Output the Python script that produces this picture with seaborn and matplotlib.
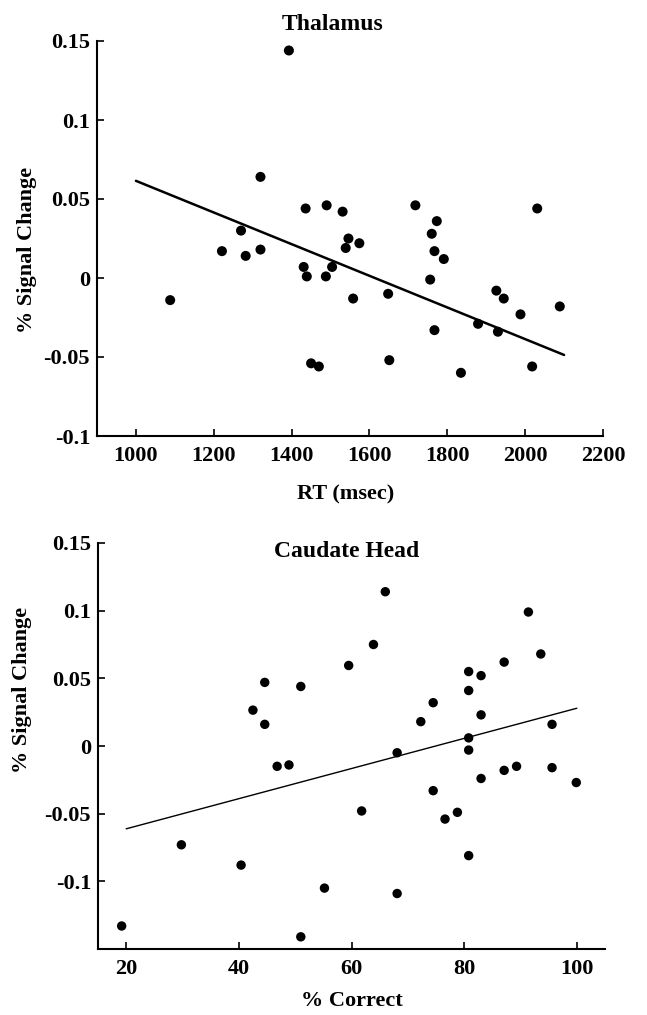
import matplotlib
matplotlib.use("Agg")
import matplotlib.pyplot as plt
import seaborn as sns
import numpy as np
import pandas as pd

# ---- Thalamus panel data ----
thal_rt = [1393, 1320, 1436, 1490, 1531, 1718, 1773, 2031, 1270, 1221,
           1282, 1320, 1431, 1439, 1488, 1504, 1546, 1539, 1574, 1558,
           1648, 1651, 1450, 1470, 1088, 1760, 1767, 1791, 1756, 1767,
           1835, 1879, 1926, 1945, 1930, 1988, 2018, 2089]
thal_sig = [0.144, 0.064, 0.044, 0.046, 0.042, 0.046, 0.036, 0.044, 0.030, 0.017,
            0.014, 0.018, 0.007, 0.001, 0.001, 0.007, 0.025, 0.019, 0.022, -0.013,
            -0.010, -0.052, -0.054, -0.056, -0.014, 0.028, 0.017, 0.012, -0.001, -0.033,
            -0.060, -0.029, -0.008, -0.013, -0.034, -0.023, -0.056, -0.018]
thal_fit_x = [1000, 2100]
thal_fit_y = [0.0615, -0.0487]
thal_xticks = [1000, 1200, 1400, 1600, 1800, 2000, 2200]
thal_yticks = [-0.1, -0.05, 0, 0.05, 0.1, 0.15]
thal_yticklabels = ["-0.1", "-0.05", "0", "0.05", "0.1", "0.15"]

# ---- Caudate Head panel data ----
caud_pc = [66.0, 91.4, 63.9, 59.5, 93.6, 87.1, 80.8, 83.0, 80.8, 44.6,
           51.0, 42.5, 44.6, 74.5, 72.3, 83.0, 95.6, 80.8, 80.8, 68.1,
           46.8, 48.9, 83.0, 87.1, 89.3, 95.6, 99.9, 74.5, 61.8, 78.8,
           76.6, 29.8, 40.4, 80.8, 55.2, 68.1, 19.2, 51.0]
caud_sig = [0.114, 0.099, 0.075, 0.0595, 0.068, 0.062, 0.055, 0.052, 0.041, 0.047,
            0.044, 0.0265, 0.016, 0.032, 0.018, 0.023, 0.016, 0.006, -0.003, -0.005,
            -0.015, -0.014, -0.024, -0.018, -0.015, -0.016, -0.027, -0.033, -0.048, -0.049,
            -0.054, -0.073, -0.088, -0.081, -0.105, -0.109, -0.133, -0.141]
caud_fit_x = [20, 100]
caud_fit_y = [-0.0612, 0.0279]
caud_xticks = [20, 40, 60, 80, 100]
caud_yticks = [-0.1, -0.05, 0, 0.05, 0.1, 0.15]
caud_yticklabels = ["-0.1", "-0.05", "0", "0.05", "0.1", "0.15"]

sns.set_style("ticks")
plt.rcParams['font.family'] = ['Liberation Serif', 'DejaVu Serif']
plt.rcParams['font.weight'] = 'bold'
plt.rcParams['text.color'] = 'black'
plt.rcParams['axes.labelcolor'] = 'black'
plt.rcParams['xtick.color'] = 'black'
plt.rcParams['ytick.color'] = 'black'
FS = 16

fig = plt.figure(figsize=(6.47, 10.15), dpi=100)
ax1 = fig.add_axes([97/647, 1-436/1015, (603-97)/647, (436-41)/1015])
ax2 = fig.add_axes([98/647, 1-949/1015, (605-98)/647, (949-543)/1015])

def style(ax):
    sns.despine(ax=ax)
    for s in ("left", "bottom"):
        ax.spines[s].set_linewidth(1.5)
        ax.spines[s].set_color("black")
    ax.tick_params(direction="in", length=5, width=1.2, colors="black",
                   labelsize=FS)
    ax.tick_params(axis="x", pad=7)
    ax.tick_params(axis="y", pad=5)
    for lab in ax.get_xticklabels() + ax.get_yticklabels():
        lab.set_fontweight("bold")

df1 = pd.DataFrame({"rt": thal_rt, "sig": thal_sig})
sns.scatterplot(data=df1, x="rt", y="sig", ax=ax1, color="black", s=52,
                edgecolor="none", linewidth=0)
sns.lineplot(x=thal_fit_x, y=thal_fit_y, ax=ax1, color="black", linewidth=1.8)
ax1.set_xlim(900, 2200)
ax1.set_ylim(-0.1, 0.15)
ax1.set_xticks(thal_xticks)
ax1.set_yticks(thal_yticks)
ax1.set_yticklabels(thal_yticklabels)
style(ax1)
ax1.set_xlabel("RT (msec)", fontsize=FS, fontweight="bold")
ax1.set_ylabel("% Signal Change", fontsize=FS, fontweight="bold")
ax1.xaxis.set_label_coords((346-97)/506, -(494-436)/395)
ax1.yaxis.set_label_coords((27-97)/506, (436-250)/395)
ax1.xaxis.label.set_va("center")
ax1.yaxis.label.set_va("center")
ax1.text(0.466, 1.028, "Thalamus", transform=ax1.transAxes, ha="center",
         va="baseline", fontsize=FS+1, fontweight="bold")

df2 = pd.DataFrame({"pc": caud_pc, "sig": caud_sig})
sns.scatterplot(data=df2, x="pc", y="sig", ax=ax2, color="black", s=46,
                edgecolor="none", linewidth=0)
sns.lineplot(x=caud_fit_x, y=caud_fit_y, ax=ax2, color="black", linewidth=1.0)
ax2.set_xlim(15, 105)
ax2.set_ylim(-0.15, 0.15)
ax2.set_xticks(caud_xticks)
ax2.set_yticks(caud_yticks)
ax2.set_yticklabels(caud_yticklabels)
style(ax2)
ax2.set_xlabel("% Correct", fontsize=FS, fontweight="bold")
ax2.set_ylabel("% Signal Change", fontsize=FS, fontweight="bold")
ax2.xaxis.set_label_coords((352-98)/507, -(1001-949)/406)
ax2.yaxis.set_label_coords((22-98)/507, (949-690)/406)
ax2.xaxis.label.set_va("center")
ax2.yaxis.label.set_va("center")
ax2.text(0.49, 0.965, "Caudate Head", transform=ax2.transAxes, ha="center",
         va="baseline", fontsize=FS+1, fontweight="bold")

fig.savefig("out.png", dpi=100, facecolor="white")
